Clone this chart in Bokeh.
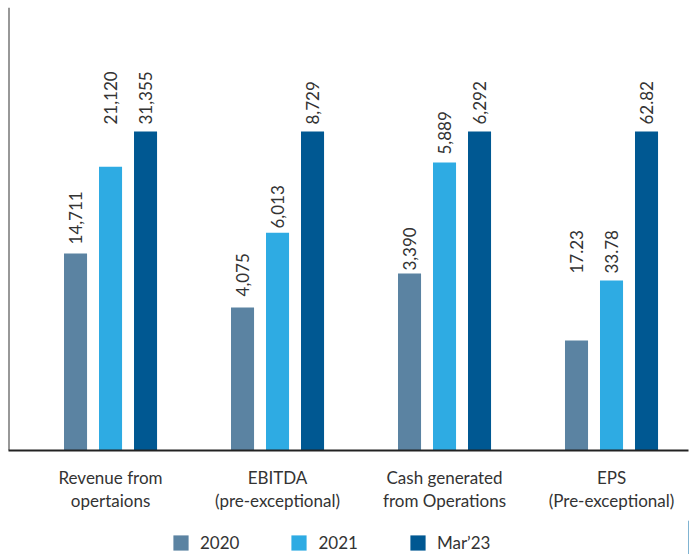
import numpy as np
from bokeh.plotting import figure
from bokeh.layouts import column
from bokeh.models import (ColumnDataSource, FixedTicker, Range1d, Span, Legend, LegendItem)
from bokeh.core.properties import value
from bokeh.embed import file_html
from bokeh.resources import INLINE

# ---- data ----
categories = ["Revenue from\nopertaions", "EBITDA\n(pre-exceptional)",
              "Cash generated\nfrom Operations", "EPS\n(Pre-exceptional)"]
series = ["2020", "2021", "Mar\u201923"]
# value labels printed on the chart
labels_2020 = ["14,711", "4,075", "3,390", "17.23"]
labels_2021 = ["21,120", "6,013", "5,889", "33.78"]
labels_mar23 = ["31,355", "8,729", "6,292", "62.82"]
# drawn bar heights (index, Mar'23 = 100 in every group)
height_2020 = [61.8, 44.8, 55.5, 34.5]
height_2021 = [89.0, 68.3, 90.3, 53.3]
height_mar23 = [100.0, 100.0, 100.0, 100.0]
# where each value label starts, same index units
label_at_2020 = [64.6, 48.3, 56.4, 55.5]
label_at_2021 = [102.2, 69.6, 92.8, 55.5]
label_at_mar23 = [102.2, 102.2, 102.2, 102.2]

colors = ["#5B83A2", "#2EABE3", "#005892"]
FONT = "Lato"
TEXT_COLOR = "#333333"

x_idx = np.arange(len(categories))

p = figure(width=696, height=520, output_backend="svg", toolbar_location=None,
           x_range=Range1d(-0.611, 3.461), y_range=Range1d(0, 138.9),
           min_border_left=8, min_border_right=8, min_border_top=7,
           min_border_bottom=70)
p.outline_line_color = None
p.xgrid.visible = False
p.ygrid.visible = False
p.yaxis.visible = False
p.background_fill_color = "white"
p.border_fill_color = "white"

bar_w = 0.138
offs = [-0.2096, 0.0, 0.2096]
heights = [height_2020, height_2021, height_mar23]
labels = [labels_2020, labels_2021, labels_mar23]
label_at = [label_at_2020, label_at_2021, label_at_mar23]

for k in range(3):
    src = ColumnDataSource(dict(x=x_idx + offs[k], top=heights[k],
                                ly=label_at[k], txt=labels[k]))
    p.vbar(x="x", top="top", width=bar_w, bottom=0, source=src,
           fill_color=colors[k], line_color=None)
    p.text(x="x", y="ly", text="txt", source=src, angle=np.pi / 2,
           text_align="left", text_baseline="middle",
           text_font=value(FONT), text_font_size="17px", text_color=TEXT_COLOR)

# left axis line
p.add_layout(Span(location=-0.611, dimension="height", line_color="#333333", line_width=2))

ax = p.xaxis[0]
ax.ticker = FixedTicker(ticks=list(x_idx))
ax.major_label_overrides = {int(i): c for i, c in zip(x_idx, categories)}
ax.major_tick_line_color = None
ax.minor_tick_line_color = None
ax.axis_line_color = "#222222"
ax.axis_line_width = 2
ax.major_label_standoff = 10
ax.major_label_text_font = FONT
ax.major_label_text_font_size = "17px"
ax.major_label_text_color = TEXT_COLOR
ax.major_label_text_line_height = 1.1

# legend strip (swatch renderers sit outside the visible range)
lf = figure(width=696, height=34, output_backend="svg", toolbar_location=None,
            x_range=Range1d(0, 1), y_range=Range1d(0, 1),
            min_border_left=0, min_border_right=0, min_border_top=0, min_border_bottom=0)
lf.axis.visible = False
lf.grid.visible = False
lf.outline_line_color = None
items = []
for s, c in zip(series, colors):
    r = lf.vbar(x=[5], top=[1], width=0.1, fill_color=c, line_color=None)
    items.append(LegendItem(label=s, renderers=[r]))
legend = Legend(items=items, orientation="horizontal", location=(163, 1),
                glyph_width=19, glyph_height=19, label_standoff=10, spacing=50,
                padding=0, margin=0, border_line_color=None,
                background_fill_alpha=0,
                label_text_font=FONT, label_text_font_size="17px",
                label_text_color=TEXT_COLOR)
lf.add_layout(legend)

layout = column(p, lf, spacing=0)
open("out.html", "w").write(file_html(layout, INLINE))
